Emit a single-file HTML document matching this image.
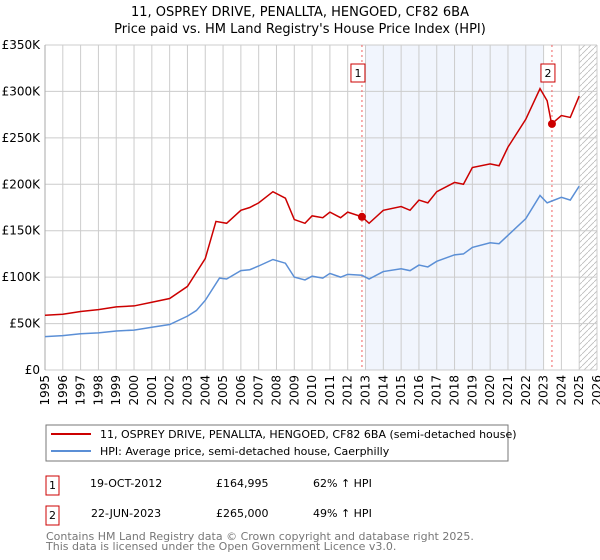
<!DOCTYPE html>
<html><head><meta charset="utf-8"><style>
body{margin:0;background:#fff;width:600px;height:560px;overflow:hidden;font-family:"DejaVu Sans","Liberation Sans",sans-serif}
svg{display:block}
</style></head><body>
<svg id="c" width="600" height="560" font-family="DejaVu Sans, Liberation Sans, sans-serif">
<text x="300" y="16" text-anchor="middle" font-size="13">11, OSPREY DRIVE, PENALLTA, HENGOED, CF82 6BA</text>
<text x="300" y="33" text-anchor="middle" font-size="13">Price paid vs. HM Land Registry's House Price Index (HPI)</text>
<g id="plot"></g>
<rect x="46" y="425" width="462" height="36" fill="#fff" stroke="#777"/>
<line x1="51" y1="434" x2="91" y2="434" stroke="#cc0000" stroke-width="2"/>
<text x="100" y="438" font-size="11">11, OSPREY DRIVE, PENALLTA, HENGOED, CF82 6BA (semi-detached house)</text>
<line x1="51" y1="451" x2="91" y2="451" stroke="#5b8fd6" stroke-width="2"/>
<text x="100" y="455" font-size="11">HPI: Average price, semi-detached house, Caerphilly</text>
<g font-size="11">
<rect x="46" y="476" width="13" height="19" fill="#fff" stroke="#cc0000"/><text x="52.5" y="489" text-anchor="middle">1</text>
<text x="90" y="487">19-OCT-2012</text><text x="216" y="487">£164,995</text><text x="313" y="487">62% ↑ HPI</text>
<rect x="46" y="506" width="13" height="19" fill="#fff" stroke="#cc0000"/><text x="52.5" y="519" text-anchor="middle">2</text>
<text x="91" y="517">22-JUN-2023</text><text x="216" y="517">£265,000</text><text x="313" y="517">49% ↑ HPI</text>
</g>
<text x="46" y="540" font-size="11" fill="#777">Contains HM Land Registry data © Crown copyright and database right 2025.</text>
<text x="46" y="550" font-size="11" fill="#777">This data is licensed under the Open Government Licence v3.0.</text>
</svg>
<script>
const years=[1995,1996,1997,1998,1999,2000,2001,2002,2003,2004,2005,2006,2007,2008,2009,2010,2011,2012,2013,2014,2015,2016,2017,2018,2019,2020,2021,2022,2023,2024,2025,2026];
const yTicks=[0,50,100,150,200,250,300,350];
const yTickLabels=["£0","£50K","£100K","£150K","£200K","£250K","£300K","£350K"];
const hpiT=[1995,1996,1997,1998,1999,2000,2001,2002,2003,2003.5,2004,2004.8,2005.2,2006,2006.5,2007,2007.8,2008.5,2009,2009.6,2010,2010.6,2011,2011.6,2012,2012.8,2013.2,2014,2015,2015.5,2016,2016.5,2017,2018,2018.5,2019,2020,2020.5,2021,2022,2022.8,2023.2,2024,2024.5,2025];
const hpiV=[36,37,39,40,42,43,46,49,58,64,75,99,98,107,108,112,119,115,100,97,101,99,104,100,103,102,98,106,109,107,113,111,117,124,125,132,137,136,145,163,188,180,186,183,198];
const propT=[1995,1996,1997,1998,1999,2000,2001,2002,2003,2003.5,2004,2004.6,2005.2,2006,2006.5,2007,2007.8,2008.5,2009,2009.6,2010,2010.6,2011,2011.6,2012,2012.8,2013.2,2014,2015,2015.5,2016,2016.5,2017,2018,2018.5,2019,2020,2020.5,2021,2022,2022.8,2023.2,2023.45,2024,2024.5,2025];
const propV=[59,60,63,65,68,69,73,77,90,105,120,160,158,172,175,180,192,185,162,158,166,164,170,164,170,165,158,172,176,172,183,180,192,202,200,218,222,220,240,270,303,290,265,274,272,295];
const saleT=[2012.8,2023.47];
const saleV=[164.995,265];
const saleLabels=["1","2"];
const NS="http://www.w3.org/2000/svg";
const X=t=>45+(t-1995)*(552/31);
const Y=v=>370-v*(325/350);
const g=document.getElementById('plot');
function mk(tag,attrs,parent){const e=document.createElementNS(NS,tag);for(const k in attrs)e.setAttribute(k,attrs[k]);(parent||g).appendChild(e);return e;}
const defs=mk('defs',{});
const pat=mk('pattern',{id:'hatch',width:6,height:6,patternUnits:'userSpaceOnUse'},defs);
mk('path',{d:'M0,6 L6,0',stroke:'#bbb','stroke-width':0.8},pat);
const sh=mk('rect',{x:X(2013),y:Y(350),width:X(2023)-X(2013),height:Y(0)-Y(350),fill:'#eef3fc',opacity:0.8});


const ht=mk('rect',{x:X(2025),y:Y(350),width:X(2026)-X(2025),height:Y(0)-Y(350),fill:'url(#hatch)'});


years.forEach(y=>{
 const l=mk('line',{x1:X(y),x2:X(y),y1:Y(350),y2:Y(0),stroke:'#ccc'});
 
 
 const t=mk('text',{x:0,y:0,'font-size':12,'text-anchor':'end',transform:`translate(${X(y)+4},${Y(0)+5}) rotate(-90)`});
 t.textContent=y;
 
 
});
yTicks.forEach((v,i)=>{
 const l=mk('line',{x1:X(1995),x2:X(2026),y1:Y(v),y2:Y(v),stroke:'#ccc'});
 
 
 const t=mk('text',{x:40,y:Y(v)+4,'font-size':12,'text-anchor':'end'});
 t.textContent=yTickLabels[i];
 
 
});
mk('line',{x1:X(1995),x2:X(1995),y1:Y(350),y2:Y(0),stroke:'#aaa'});
saleT.forEach((t,i)=>{
 const l=mk('line',{x1:X(t),x2:X(t),y1:Y(350),y2:Y(0),stroke:'#f06060','stroke-dasharray':'2,3'});
 
 
 const r=mk('rect',{x:X(t)-11,y:64,width:14,height:18,fill:'#fff',stroke:'#cc0000'});
 
 
 const tx=mk('text',{x:X(t)-4,y:77,'font-size':11,'text-anchor':'middle'});
 tx.textContent=saleLabels[i];
 
 
});
const hp=mk('polyline',{points:hpiT.map((t,i)=>X(t)+','+Y(hpiV[i])).join(' '),fill:'none',stroke:'#5b8fd6','stroke-width':1.5});


const pp=mk('polyline',{points:propT.map((t,i)=>X(t)+','+Y(propV[i])).join(' '),fill:'none',stroke:'#cc0000','stroke-width':1.5});


saleT.forEach((t,i)=>{
 const c=mk('circle',{cx:X(t),cy:Y(saleV[i]),r:4,fill:'#cc0000'});
 
 
});
</script>
</body></html>
